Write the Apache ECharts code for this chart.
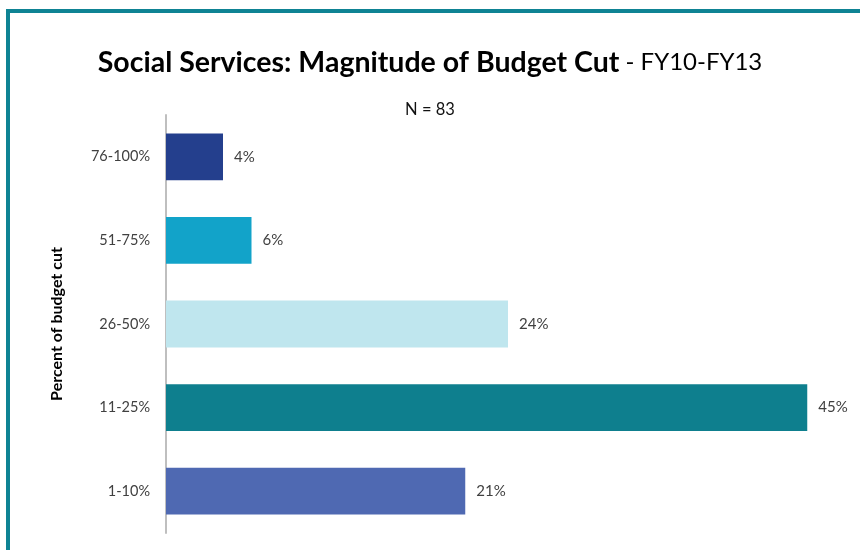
<!DOCTYPE html>
<html>
<head>
<meta charset="utf-8">
<title>Social Services: Magnitude of Budget Cut</title>
<script src="https://cdn.jsdelivr.net/npm/echarts@6/dist/echarts.min.js"></script>
<style>
  html, body { margin: 0; padding: 0; background: #ffffff; }
  #chart { width: 860px; height: 550px; }
</style>
</head>
<body>
<div id="chart"></div>
<script>
// Budget cut bands, listed top to bottom
const categories = ['76-100%', '51-75%', '26-50%', '11-25%', '1-10%'];
// Share of respondents in each band (%)
const shares = [4, 6, 24, 45, 21];
const barColors = ['#243F8D', '#12A3C9', '#BFE6EE', '#0E7F8E', '#4F69B2'];
const sampleSize = 83;

const FONT = 'Lato, "Open Sans", sans-serif';

const chart = echarts.init(document.getElementById('chart'), null, { renderer: 'canvas' });

chart.setOption({
  backgroundColor: '#ffffff',
  animation: false,
  graphic: [
    {
      type: 'rect',
      shape: { x: 8, y: 11, width: 900, height: 600 },
      style: { fill: 'none', stroke: '#0E8394', lineWidth: 4 },
      z: 10
    },
    {
      type: 'text',
      left: 'center',
      top: 101,
      style: { text: 'N = ' + sampleSize, font: '16.5px ' + FONT, fill: '#111111' }
    }
  ],
  title: {
    text: '{b|Social Services: Magnitude of Budget Cut}{n| - FY10-FY13}',
    left: 'center',
    top: 43,
    textStyle: {
      rich: {
        b: { fontFamily: FONT, fontWeight: 'bold', fontSize: 28.5, color: '#000000' },
        n: { fontFamily: FONT, fontWeight: 'normal', fontSize: 24, color: '#000000' }
      }
    }
  },
  grid: { left: 166, right: 10, top: 115, height: 418, containLabel: false },
  xAxis: {
    type: 'value',
    min: 0,
    max: 48,
    show: false
  },
  yAxis: {
    type: 'category',
    data: categories,
    inverse: true,
    name: 'Percent of budget cut',
    nameLocation: 'middle',
    nameGap: 101,
    nameRotate: 90,
    nameTextStyle: { fontFamily: FONT, fontWeight: 'bold', fontSize: 16, color: '#000000' },
    axisLine: { show: true, lineStyle: { color: '#BFBFBF', width: 2 } },
    axisTick: { show: false },
    axisLabel: { margin: 16, fontFamily: FONT, fontSize: 14.5, color: '#404040' }
  },
  series: [{
    type: 'bar',
    data: shares.map((v, i) => ({ value: v, itemStyle: { color: barColors[i] } })),
    barCategoryGap: '44%',
    label: {
      show: true,
      position: 'right',
      distance: 11,
      formatter: p => p.value + '%',
      fontFamily: FONT,
      fontSize: 15,
      color: '#404040'
    }
  }]
});
</script>
</body>
</html>
